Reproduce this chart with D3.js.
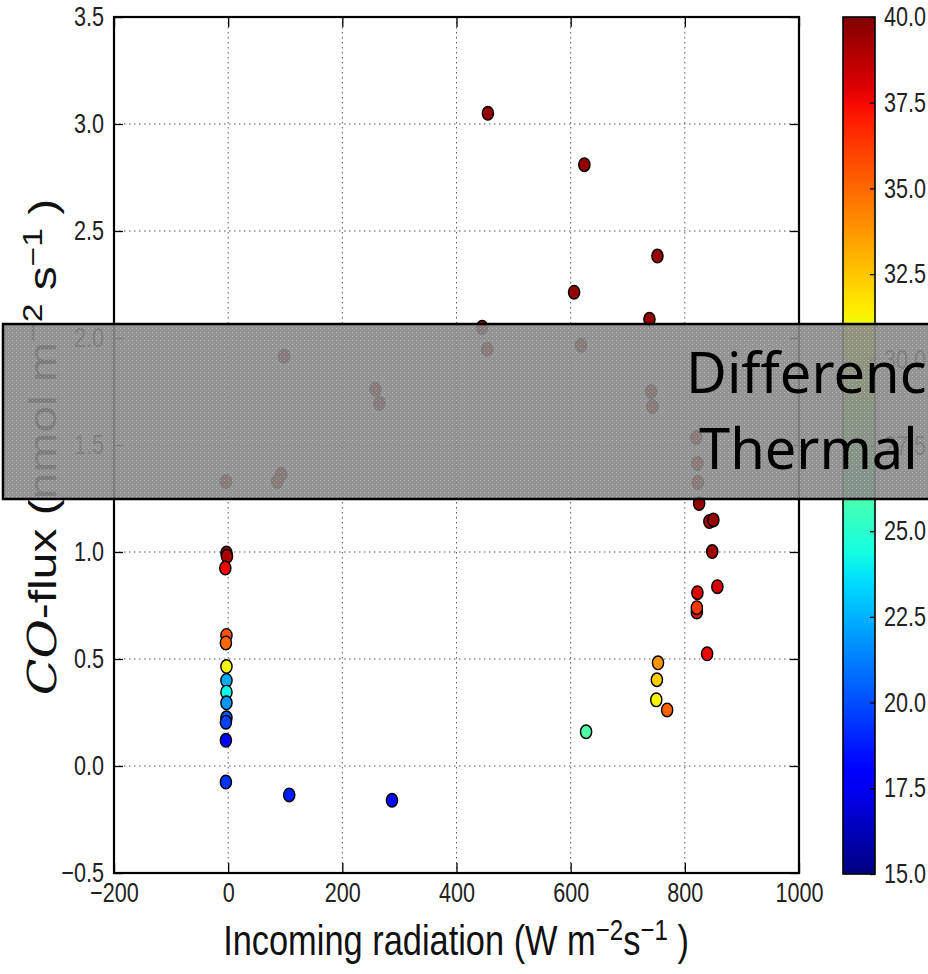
<!DOCTYPE html>
<html>
<head>
<meta charset="utf-8">
<script src="https://cdn.jsdelivr.net/npm/d3@7"></script>
<style>
  body { margin: 0; background: #fff; }
  svg { display: block; }
</style>
</head>
<body>
<svg id="chart"></svg>
<script>
// incoming radiation (W m-2 s-1), CO flux (nmol m-2 s-1), temperature (colour)
const radiation = [-3, -2, -5, -3, -4, -3, -3, -3, -3, -3, -4, -4, -4, 107, 287,
  -4, 98, 93, 86, 258, 265, 445, 454, 455, 624, 606, 618, 738, 752, 741, 743,
  820, 822, 823, 825, 843, 850, 848, 857, 822, 821, 821, 839, 753, 751, 750, 769, 627];
const flux = [0.995, 0.98, 0.925, 0.61, 0.575, 0.465, 0.40, 0.345, 0.295, 0.225, 0.205, 0.12, -0.075, -0.135, -0.16,
  1.33, 1.915, 1.362, 1.33, 1.76, 1.695, 2.05, 1.948, 3.05, 2.81, 2.214, 1.966, 2.088, 2.383, 1.75, 1.68,
  1.535, 1.414, 1.325, 1.227, 1.142, 1.15, 1.002, 0.838, 0.81, 0.72, 0.74, 0.524, 0.482, 0.403, 0.309, 0.262, 0.16];
const temperature = [39.6, 39.0, 37.6, 35.6, 35.0, 31.2, 22.3, 24.2, 21.8, 20.3, 19.8, 17.8, 19.4, 18.8, 18.3,
  39.5, 39.5, 39.5, 39.4, 39.5, 39.5, 39.6, 39.5, 39.6, 39.6, 39.6, 39.5, 39.6, 39.5, 39.5, 39.5,
  39.5, 39.5, 39.5, 39.5, 39.2, 39.5, 39.3, 38.2, 38.0, 37.5, 36.3, 37.6, 33.8, 32.3, 31.3, 35.2, 26.2];

const xTicks = [-200, 0, 200, 400, 600, 800, 1000];
const yTicks = [-0.5, 0.0, 0.5, 1.0, 1.5, 2.0, 2.5, 3.0, 3.5];
const cTicks = [15, 17.5, 20, 22.5, 25, 27.5, 30, 32.5, 35, 37.5, 40];
const overlayLines = ["Difference", "Thermal c"];

const width = 928, height = 974;
const squeeze = 0.8; // picture is a bit narrow horizontally

const svg = d3.select("#chart")
    .attr("width", width)
    .attr("height", height)
    .style("font-family", "'Liberation Sans', Arial, sans-serif");

svg.append("rect").attr("width", width).attr("height", height).attr("fill", "#fff");

const x = d3.scaleLinear().domain([-200, 1000]).range([114, 799]);
const y = d3.scaleLinear().domain([-0.5, 3.5]).range([873, 17]);

// matplotlib "jet"
const jr = d3.scaleLinear().domain([0, 0.35, 0.66, 0.89, 1]).range([0, 0, 1, 1, 0.5]).clamp(true);
const jg = d3.scaleLinear().domain([0, 0.125, 0.375, 0.64, 0.91, 1]).range([0, 0, 1, 1, 0, 0]).clamp(true);
const jb = d3.scaleLinear().domain([0, 0.11, 0.34, 0.65, 1]).range([0.5, 1, 1, 0, 0]).clamp(true);
const jet = t => d3.rgb(jr(t) * 255, jg(t) * 255, jb(t) * 255).formatHex();
const color = d3.scaleSequential(jet).domain([15, 40]);

// grid
const grid = svg.append("g")
    .attr("stroke", "#555")
    .attr("stroke-width", 1)
    .attr("stroke-dasharray", "1.5,3.5");
grid.selectAll(".gx").data(xTicks.slice(1, -1)).join("line")
    .attr("x1", d => x(d)).attr("x2", d => x(d))
    .attr("y1", y(3.5)).attr("y2", y(-0.5));
grid.selectAll(".gy").data(yTicks.slice(1, -1)).join("line")
    .attr("y1", d => y(d)).attr("y2", d => y(d))
    .attr("x1", x(-200)).attr("x2", x(1000));

// points
svg.append("g")
    .selectAll("ellipse")
    .data(d3.range(radiation.length))
    .join("ellipse")
    .attr("cx", i => x(radiation[i]))
    .attr("cy", i => y(flux[i]))
    .attr("rx", 5.6)
    .attr("ry", 6.8)
    .attr("fill", i => color(temperature[i]))
    .attr("stroke", "#000")
    .attr("stroke-width", 1.4);

// axes
const fmtY = d3.format(".1f");
const tickFont = 27;

const xAxis = svg.append("g")
    .attr("transform", `translate(0,${y(-0.5)})`)
    .call(d3.axisBottom(x).tickValues(xTicks).tickFormat(d => d < 0 ? "\u2212" + Math.abs(d) : d)
        .tickSizeInner(-10).tickSizeOuter(0).tickPadding(10));
xAxis.selectAll("text").attr("transform", `scale(${squeeze},1)`);

const yAxis = svg.append("g")
    .attr("transform", `translate(${x(-200)},0)`)
    .call(d3.axisLeft(y).tickValues(yTicks).tickFormat(d => d < 0 ? "\u2212" + fmtY(-d) : fmtY(d))
        .tickSizeInner(-9).tickSizeOuter(0).tickPadding(10));
yAxis.selectAll("text").attr("x", -10 / squeeze).attr("transform", `scale(${squeeze},1)`);

svg.append("g")
    .attr("transform", `translate(0,${y(3.5)})`)
    .call(d3.axisTop(x).tickValues(xTicks).tickFormat("").tickSizeInner(-10).tickSizeOuter(0));
svg.append("g")
    .attr("transform", `translate(${x(1000)},0)`)
    .call(d3.axisRight(y).tickValues(yTicks).tickFormat("").tickSizeInner(-9).tickSizeOuter(0));

svg.selectAll(".domain").remove();
svg.selectAll(".tick line").attr("stroke", "#000").attr("stroke-width", 1.3);
svg.selectAll(".tick text").attr("font-size", tickFont).attr("fill", "#222")
    .attr("font-family", "'Liberation Sans', Arial, sans-serif");

// frame
svg.append("rect")
    .attr("x", x(-200)).attr("y", y(3.5))
    .attr("width", x(1000) - x(-200)).attr("height", y(-0.5) - y(3.5))
    .attr("fill", "none").attr("stroke", "#000").attr("stroke-width", 2.2);

// colorbar
const cb = { x0: 843, x1: 875 };
const cScale = d3.scaleLinear().domain([15, 40]).range([874, 17]);
const defs = svg.append("defs");
const grad = defs.append("linearGradient").attr("id", "jetgrad")
    .attr("x1", 0).attr("y1", 1).attr("x2", 0).attr("y2", 0);
grad.selectAll("stop").data(d3.range(0, 1.0001, 0.02)).join("stop")
    .attr("offset", d => d).attr("stop-color", d => jet(d));
svg.append("rect")
    .attr("x", cb.x0).attr("y", cScale(40))
    .attr("width", cb.x1 - cb.x0).attr("height", cScale(15) - cScale(40))
    .attr("fill", "url(#jetgrad)");
const cAxis = svg.append("g")
    .attr("transform", `translate(${cb.x1},0)`)
    .call(d3.axisRight(cScale).tickValues(cTicks).tickFormat(d3.format(".1f"))
        .tickSizeInner(-5).tickSizeOuter(0).tickPadding(9));
cAxis.select(".domain").remove();
cAxis.selectAll(".tick line").attr("stroke", "#000").attr("stroke-width", 1.3);
cAxis.selectAll("text").attr("font-size", tickFont).attr("fill", "#222")
    .attr("x", 9 / squeeze).attr("transform", `scale(${squeeze},1)`);
svg.append("rect")
    .attr("x", cb.x0).attr("y", cScale(40))
    .attr("width", cb.x1 - cb.x0).attr("height", cScale(15) - cScale(40))
    .attr("fill", "none").attr("stroke", "#000").attr("stroke-width", 1.6);

// axis labels
const xl = svg.append("text")
    .attr("transform", `translate(456,955) scale(${squeeze},1)`)
    .attr("text-anchor", "middle")
    .attr("font-size", 43)
    .attr("fill", "#111");
xl.append("tspan").text("Incoming radiation (W m");
xl.append("tspan").attr("font-size", "0.7em").attr("dy", -15).text("\u22122");
xl.append("tspan").attr("dy", 15).text("s");
xl.append("tspan").attr("font-size", "0.7em").attr("dy", -15).text("\u22121");
xl.append("tspan").attr("dy", 15).text(" )");

const yl = svg.append("text")
    .attr("transform", `translate(56,447) scale(${squeeze},1) rotate(-90)`)
    .attr("text-anchor", "middle")
    .attr("font-size", 48)
    .attr("fill", "#111");
yl.append("tspan").attr("font-family", "'DejaVu Serif', serif").attr("font-style", "italic").text("CO");
yl.append("tspan").text("-flux  (nmol m");
yl.append("tspan").attr("font-size", "0.7em").attr("dy", -17).text("\u22122");
yl.append("tspan").attr("dy", 17).text(" s");
yl.append("tspan").attr("font-size", "0.7em").attr("dy", -17).text("\u22121");
yl.append("tspan").attr("dy", 17).text(" )");

// grey slide overlay on top of the figure
const pat = defs.append("pattern").attr("id", "dots")
    .attr("width", 4).attr("height", 4).attr("patternUnits", "userSpaceOnUse");
pat.append("rect").attr("width", 4).attr("height", 4).attr("fill", "#878787");
pat.append("rect").attr("width", 1).attr("height", 1).attr("fill", "#b4b4b4");
pat.append("rect").attr("x", 2).attr("y", 2).attr("width", 1).attr("height", 1).attr("fill", "#9a9a9a");

svg.append("rect")
    .attr("x", 3).attr("y", 324)
    .attr("width", width + 10).attr("height", 175)
    .attr("fill", "url(#dots)")
    .attr("fill-opacity", 0.9)
    .attr("stroke", "#000")
    .attr("stroke-width", 2.5);

svg.append("g")
    .attr("font-family", "'Noto Sans', 'Open Sans', sans-serif")
    .attr("font-size", 56)
    .attr("fill", "#000")
    .selectAll("text")
    .data(overlayLines)
    .join("text")
    .attr("x", (d, i) => i === 0 ? 686 : 699)
    .attr("y", (d, i) => i === 0 ? 393 : 469)
    .text(d => d);
</script>
</body>
</html>
